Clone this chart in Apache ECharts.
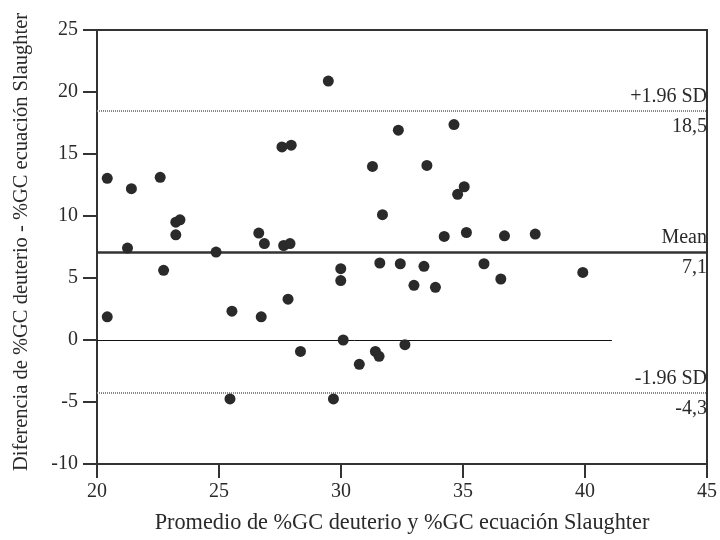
<!DOCTYPE html>
<html><head><meta charset="utf-8">
<script src="https://cdn.jsdelivr.net/npm/echarts@6/dist/echarts.min.js"></script>
<style>html,body{margin:0;padding:0;background:#fff}#c{width:720px;height:540px}</style>
</head><body><div id="c"></div>
<script>
// Bland-Altman data: average of two methods (x) and their difference (y)
const averages = [20.42, 21.41, 22.59, 23.23, 23.40, 23.23, 26.63, 29.48, 27.58, 27.96,
  32.35, 31.29, 33.52, 31.70, 34.63, 35.05, 34.78, 34.23, 35.14, 36.70,
  37.96, 21.25, 24.88, 26.86, 22.73, 20.42, 25.53, 26.73, 25.45, 27.65,
  27.91, 29.99, 29.99, 31.59, 32.43, 33.40, 32.99, 27.83, 30.09, 28.34,
  30.75, 31.41, 31.56, 32.62, 29.69, 33.87, 35.86, 36.55, 39.91];
const differences = [13.04, 12.20, 13.12, 9.50, 9.69, 8.48, 8.62, 20.88, 15.57, 15.71,
  16.92, 14.00, 14.08, 10.11, 17.37, 12.36, 11.75, 8.35, 8.67, 8.40,
  8.54, 7.41, 7.09, 7.78, 5.62, 1.87, 2.32, 1.87, -4.75, 7.62,
  7.78, 5.75, 4.79, 6.21, 6.15, 5.94, 4.41, 3.29, 0.00, -0.92,
  -1.96, -0.92, -1.32, -0.38, -4.75, 4.25, 6.15, 4.92, 5.45];

const limitNames = ['+1.96 SD', 'Mean', '-1.96 SD'];
const limitValues = [18.47, 7.1, -4.25];
const limitLabels = ['18,5', '7,1', '-4,3'];
const zeroLineRange = [20, 41.1];

const xTitle = 'Promedio de %GC deuterio y %GC ecuación Slaughter';
const yTitle = 'Diferencia de %GC deuterio - %GC ecuación Slaughter';
const xMin = 20, xMax = 45, xStep = 5;
const yMin = -10, yMax = 25, yStep = 5;

const FONT = 'Liberation Serif';
const TXT = '#2a2a2a';
const points = averages.map((a, i) => [a, differences[i]]);

const meanStyle = { color: '#333', width: 2.5, type: 'solid', opacity: 1 };
const sdStyle = { color: '#888', width: 2, type: [1, 1], opacity: 1 };

const lineMarks = [];
const labelMarks = [];
limitValues.forEach((v, i) => {
  const style = i === 1 ? meanStyle : sdStyle;
  lineMarks.push({
    yAxis: v, lineStyle: style,
    label: { show: true, position: 'insideEndTop', formatter: limitNames[i],
      fontFamily: FONT, fontSize: 20, color: TXT, distance: [0, 4] }
  });
  labelMarks.push({
    yAxis: v,
    label: { show: true, position: 'insideEndBottom', formatter: limitLabels[i],
      fontFamily: FONT, fontSize: 20, color: TXT, distance: [0, 6] }
  });
});
lineMarks.push([
  { coord: [zeroLineRange[0], 0], lineStyle: { color: '#111', width: 1, type: 'solid' }, label: { show: false } },
  { coord: [zeroLineRange[1], 0] }
]);

const chart = echarts.init(document.getElementById('c'), null, { renderer: 'canvas' });
chart.setOption({
  animation: false,
  backgroundColor: '#fff',
  textStyle: { fontFamily: FONT },
  grid: { left: 97, right: 10, top: 30, bottom: 76, show: true, borderColor: '#333', borderWidth: 2, backgroundColor: 'transparent' },
  xAxis: {
    type: 'value', min: xMin, max: xMax, interval: xStep,
    splitLine: { show: false },
    axisLine: { show: true, onZero: false, lineStyle: { color: '#333', width: 2 } },
    axisTick: { show: true, inside: false, length: 14, lineStyle: { color: '#333', width: 2 } },
    axisLabel: { fontFamily: FONT, fontSize: 20, color: TXT, margin: 18 },
    name: xTitle, nameLocation: 'middle', nameGap: 48,
    nameTextStyle: { fontFamily: FONT, fontSize: 22.3, color: TXT }
  },
  yAxis: {
    type: 'value', min: yMin, max: yMax, interval: yStep,
    splitLine: { show: false },
    axisLine: { show: true, onZero: false, lineStyle: { color: '#333', width: 2 } },
    axisTick: { show: true, inside: false, length: 14, lineStyle: { color: '#333', width: 2 } },
    axisLabel: { fontFamily: FONT, fontSize: 20, color: TXT, margin: 19 },
    name: yTitle, nameLocation: 'middle', nameGap: 65,
    nameTextStyle: { fontFamily: FONT, fontSize: 20.5, color: TXT, padding: [0, 0, 0, 10] }
  },
  series: [{
    type: 'scatter',
    data: points,
    symbol: 'circle',
    symbolSize: 11,
    itemStyle: { color: '#2a2a2a', opacity: 1 },
    z: 5,
    markLine: {
      silent: true, symbol: ['none', 'none'], animation: false,
      data: lineMarks
    }
  }, {
    type: 'line',
    data: [],
    markLine: {
      silent: true, symbol: ['none', 'none'], animation: false,
      lineStyle: { color: 'rgba(0,0,0,0)', width: 1 },
      data: labelMarks
    }
  }]
});
</script></body></html>
